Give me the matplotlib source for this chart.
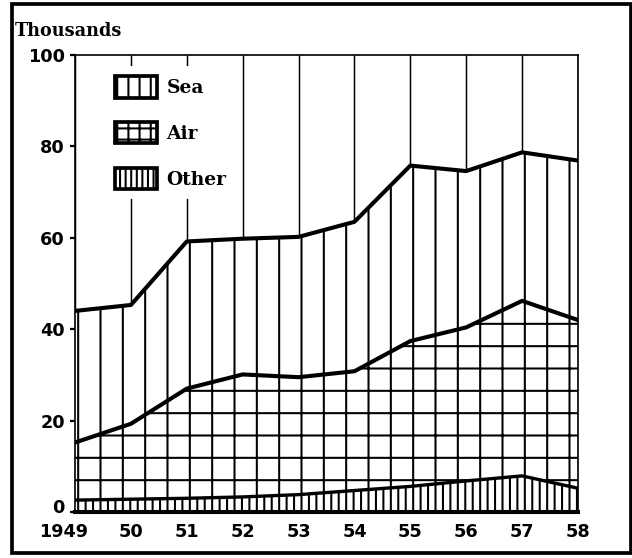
import matplotlib
matplotlib.use("Agg")
import matplotlib.pyplot as plt
import matplotlib.transforms as mtransforms
from matplotlib.patches import Patch, Rectangle
import numpy as np

# values in thousands (stacked: other, air, sea)
years = [1949, 1950, 1951, 1952, 1953, 1954, 1955, 1956, 1957, 1958]
yearLabels = ["1949", "50", "51", "52", "53", "54", "55", "56", "57", "58"]
other = [2.6, 2.8, 3.0, 3.3, 3.8, 4.7, 5.6, 6.8, 7.9, 5.2]
air = [12.6, 16.5, 24.0, 26.8, 25.7, 26.1, 31.8, 33.6, 38.3, 36.8]
sea = [28.8, 26.0, 32.2, 29.7, 30.7, 32.7, 38.4, 34.2, 32.5, 34.9]
yTicks = [0, 20, 40, 60, 80, 100]

plt.rcParams['hatch.linewidth'] = 1.1
plt.rcParams['hatch.color'] = 'black'

DPI = 134
fig = plt.figure(figsize=(632 / DPI, 558 / DPI), dpi=DPI)
ax = fig.add_axes([75 / 632, 46 / 558, 503 / 632, 457 / 558])

x = np.array(years)
otherTop = np.array(other)
airTop = otherTop + np.array(air)
seaTop = airTop + np.array(sea)

# year grid lines behind everything
ax.vlines(x, 0, 100, color='black', linewidth=0.8, zorder=0.5)

ax.fill_between(x, 0, otherTop, facecolor='white', edgecolor='black',
                linewidth=0, hatch='|||', zorder=1)
ax.fill_between(x, otherTop, airTop, facecolor='white', edgecolor='black',
                linewidth=0, hatch='+', zorder=1)
ax.fill_between(x, airTop, seaTop, facecolor='white', edgecolor='black',
                linewidth=0, hatch='|', zorder=1)

ax.plot(x, otherTop, color='black', linewidth=1.8, zorder=3)
ax.plot(x, airTop, color='black', linewidth=2.2, zorder=3)
ax.plot(x, seaTop, color='black', linewidth=2.2, zorder=3)

ax.set_xlim(years[0], years[-1])
ax.set_ylim(0, 100)
ax.set_xticks(years, yearLabels)
ax.set_yticks(yTicks)
for lab in ax.get_xticklabels() + ax.get_yticklabels():
    lab.set_fontfamily('DejaVu Sans')
    lab.set_fontweight('bold')
    lab.set_fontsize(9.5)
ax.tick_params(axis='x', length=0, pad=6)
ax.tick_params(axis='y', length=2.5, width=1.2, pad=3)

# nudge "1949" left and "0" up, as on the original
xl = ax.xaxis.get_major_ticks()[0].label1
xl.set_transform(xl.get_transform() + mtransforms.ScaledTranslation(-11 / DPI, 0, fig.dpi_scale_trans))
yl = ax.yaxis.get_major_ticks()[0].label1
yl.set_transform(yl.get_transform() + mtransforms.ScaledTranslation(0, 6 / DPI, fig.dpi_scale_trans))

for side in ['left', 'top', 'right']:
    ax.spines[side].set_linewidth(0.9)
ax.spines['bottom'].set_linewidth(2.2)

handles = [
    Patch(facecolor='white', edgecolor='black', linewidth=2, hatch='||', label='Sea'),
    Patch(facecolor='white', edgecolor='black', linewidth=2, hatch='++', label='Air'),
    Patch(facecolor='white', edgecolor='black', linewidth=2, hatch='||||', label='Other'),
]
leg = ax.legend(handles=handles, loc='upper left', bbox_to_anchor=(0.061, 0.974),
                frameon=True, fancybox=False, edgecolor='white', framealpha=1,
                borderpad=0.5, borderaxespad=0, handlelength=2.26, handleheight=1.4,
                labelspacing=1.3, handletextpad=0.5,
                prop=dict(family='DejaVu Serif', weight='bold', size=10))
leg.set_zorder(5)

fig.text(15 / 632, 1 - 31 / 558, "Thousands", ha='left', va='center',
         family='DejaVu Serif', weight='bold', fontsize=9.5)

# outer frame of the picture
fig.add_artist(Rectangle((12 / 632, 5 / 558), 619 / 632, 549 / 558,
                         transform=fig.transFigure, fill=False,
                         edgecolor='black', linewidth=2))

fig.savefig("out.png", dpi=DPI)
